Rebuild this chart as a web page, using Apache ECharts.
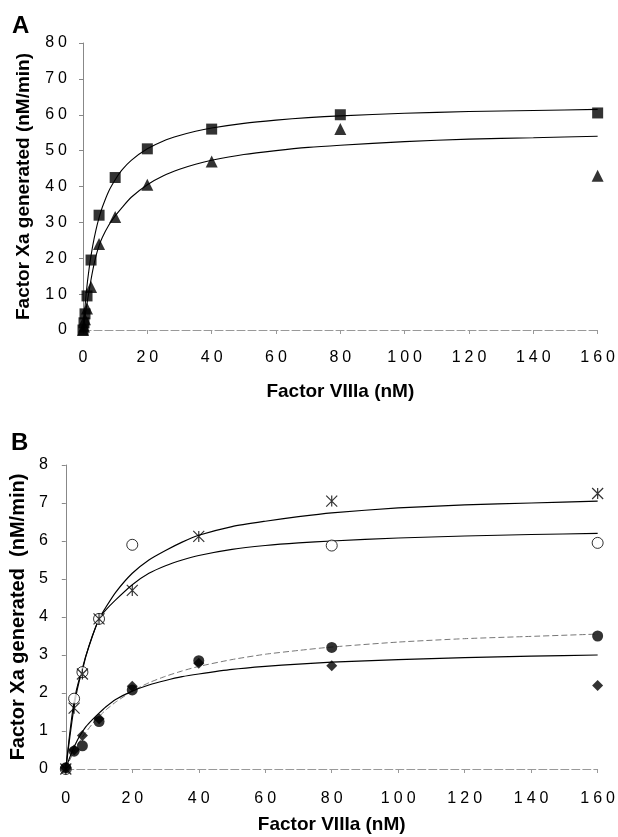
<!DOCTYPE html>
<html lang="en" style="height: 100%;width: 100%">
<head>
    <meta charset="UTF-8">
    <title>Factor Xa generation vs Factor VIIIa</title>
    <script src="https://cdn.jsdelivr.net/npm/echarts@6/dist/echarts.min.js"></script>
</head>
<body style="height: 100%; margin: 0; background: #fff">
<div id="charts" style="height: 837px;width: 618px"></div>
<script>
    // panel A - measured points
    var concA = [0, 0.3125, 0.625, 1.25, 2.5, 5, 10, 20, 40, 80, 160];
    var squaresA = [0, 2, 4.5, 9.5, 19.5, 32, 42.5, 50.5, 56, 60, 60.5];
    var trianglesA = [0, 1, 3, 6, 12, 24, 31.5, 40.5, 47, 56, 43];

    // fitted curves at these x positions
    var fitX = [0, 1, 2, 3, 4, 5, 6, 8, 10, 12, 15, 20, 25, 30, 35, 40, 50, 60, 70, 80, 100, 120, 140, 160];
    var fitSquaresA = [0, 10.3, 17.8, 23.4, 27.8, 31.3, 34.2, 38.7, 41.9, 44.5, 47.3, 50.5, 52.7, 54.2, 55.4, 56.3, 57.6, 58.5, 59.2, 59.7, 60.4, 60.9, 61.2, 61.5];
    var fitTrianglesA = [0, 6, 11.5, 16.5, 20.5, 23.5, 25.8, 29.2, 31.8, 34, 37, 40.5, 43, 44.8, 46.2, 47.3, 48.9, 50, 50.9, 51.5, 52.5, 53.2, 53.6, 54];

    // panel B - measured points
    var concB = [0, 2.5, 5, 10, 20, 40, 80, 160];
    var openCirclesB = [0, 1.85, 2.55, 3.95, 5.9, null, 5.88, 5.95];
    var asterisksB = [0, 1.6, 2.5, 3.95, 4.7, 6.12, 7.05, 7.25];
    var filledCirclesB = [0.03, 0.47, 0.61, 1.25, 2.08, 2.85, 3.2, 3.5];
    var diamondsB = [0.03, 0.5, 0.88, 1.32, 2.18, 2.78, 2.72, 2.2];
    // panel B - fitted curves
    var fitAsterisksB = [0, 0.7, 1.35, 1.9, 2.3, 2.6, 2.95, 3.5, 3.95, 4.25, 4.65, 5.15, 5.5, 5.75, 5.97, 6.15, 6.38, 6.52, 6.64, 6.74, 6.87, 6.95, 7.0, 7.05];
    var fitOpenCirclesB = [0, 0.8, 1.5, 2.0, 2.35, 2.65, 2.97, 3.5, 3.95, 4.18, 4.45, 4.85, 5.15, 5.35, 5.5, 5.62, 5.78, 5.88, 5.95, 6.0, 6.08, 6.13, 6.17, 6.2];
    var fitFilledCirclesB = [0, 0.2, 0.38, 0.55, 0.7, 0.84, 0.96, 1.19, 1.38, 1.55, 1.76, 2.05, 2.27, 2.44, 2.58, 2.7, 2.88, 3.02, 3.12, 3.21, 3.34, 3.43, 3.49, 3.55];
    var fitDiamondsB = [0, 0.26, 0.48, 0.67, 0.84, 0.98, 1.11, 1.3, 1.47, 1.63, 1.83, 2.05, 2.21, 2.33, 2.43, 2.5, 2.62, 2.7, 2.76, 2.81, 2.88, 2.93, 2.97, 3.0];

    function pairs(xs, ys) {
        var out = [];
        for (var i = 0; i < xs.length; i++) {
            if (ys[i] !== null) out.push([xs[i], ys[i]]);
        }
        return out;
    }
    // the tick numbers are printed with wide letter spacing
    function spaced(v) {
        return String(v).split('').join('\u2005');
    }

    var font = 'Liberation Sans, Arial, sans-serif';
    var asteriskPath = 'path://M0,0L12,12M12,0L0,12M6,0L6,12';

    function xAx(idx, margin, gap) {
        return {
            gridIndex: idx, type: 'value', min: 0, max: 160, interval: 20,
            name: 'Factor VIIIa (nM)', nameLocation: 'middle', nameGap: gap,
            nameTextStyle: {fontFamily: font, fontWeight: 'bold', fontSize: 19, color: '#000'},
            axisLine: {show: true, lineStyle: {color: '#999', width: 1, type: [8, 3]}},
            axisTick: {show: true, length: 4, lineStyle: {color: '#999'}},
            axisLabel: {fontFamily: font, fontSize: 16, color: '#000', margin: margin, formatter: spaced},
            splitLine: {show: false}
        };
    }
    function yAx(idx, max, interval, margin, gap, name, nameSize) {
        return {
            gridIndex: idx, type: 'value', min: 0, max: max, interval: interval,
            name: name, nameLocation: 'middle', nameGap: gap,
            nameTextStyle: {fontFamily: font, fontWeight: 'bold', fontSize: nameSize, color: '#000'},
            axisLine: {show: true, lineStyle: {color: '#888', width: 1}},
            axisTick: {show: true, length: 4, lineStyle: {color: '#888'}},
            axisLabel: {fontFamily: font, fontSize: 16, color: '#000', margin: margin, formatter: spaced},
            splitLine: {show: false}
        };
    }
    function curve(idx, ys, color, type, width) {
        return {
            type: 'line', xAxisIndex: idx, yAxisIndex: idx, data: pairs(fitX, ys),
            smooth: 0.2, symbol: 'none', silent: true,
            lineStyle: {color: color, width: width, type: type}, z: 2
        };
    }
    function marks(idx, xs, ys, symbol, size, style) {
        return {
            type: 'scatter', xAxisIndex: idx, yAxisIndex: idx, data: pairs(xs, ys),
            symbol: symbol, symbolSize: size, itemStyle: style, z: 3
        };
    }

    var dom = document.getElementById('charts');
    var myChart = echarts.init(dom);
    var option = {
        animation: false,
        backgroundColor: '#fff',
        title: [
            {text: 'A', left: 12, top: 14, padding: 0, textStyle: {fontFamily: font, fontWeight: 'bold', fontSize: 24, color: '#000'}},
            {text: 'B', left: 11, top: 431, padding: 0, textStyle: {fontFamily: font, fontWeight: 'bold', fontSize: 24, color: '#000'}}
        ],
        grid: [
            {left: 83, right: 20, top: 43, bottom: 507},
            {left: 63, right: 14, top: 465, bottom: 68}
        ],
        xAxis: [xAx(0, 20, 52), xAx(1, 22, 46)],
        yAxis: [
            yAx(0, 80, 10, 16, 50, 'Factor Xa generated (nM/min)', 19),
            yAx(1, 8, 1, 18, 29, 'Factor Xa generated  (nM/min)', 20)
        ],
        series: [
            curve(0, fitSquaresA, '#000', 'solid', 1.1),
            curve(0, fitTrianglesA, '#000', 'solid', 1.1),
            marks(0, concA, squaresA, 'rect', 11, {color: '#000'}),
            marks(0, concA, trianglesA, 'triangle', 12, {color: '#000'}),

            curve(1, fitAsterisksB, '#000', 'solid', 1.2),
            curve(1, fitOpenCirclesB, '#000', 'solid', 1.1),
            curve(1, fitFilledCirclesB, '#777', [6, 3], 1),
            curve(1, fitDiamondsB, '#000', 'solid', 1.2),
            marks(1, concB, openCirclesB, 'circle', 11, {color: '#fff', borderColor: '#000', borderWidth: 1}),
            marks(1, concB, asterisksB, asteriskPath, 11, {color: 'rgba(0,0,0,0)', borderColor: '#000', borderWidth: 1.2}),
            marks(1, concB, diamondsB, 'diamond', 11, {color: '#000'}),
            marks(1, concB, filledCirclesB, 'circle', 11, {color: '#000'})
        ]
    };
    myChart.setOption(option, true);
</script>
</body>
</html>
